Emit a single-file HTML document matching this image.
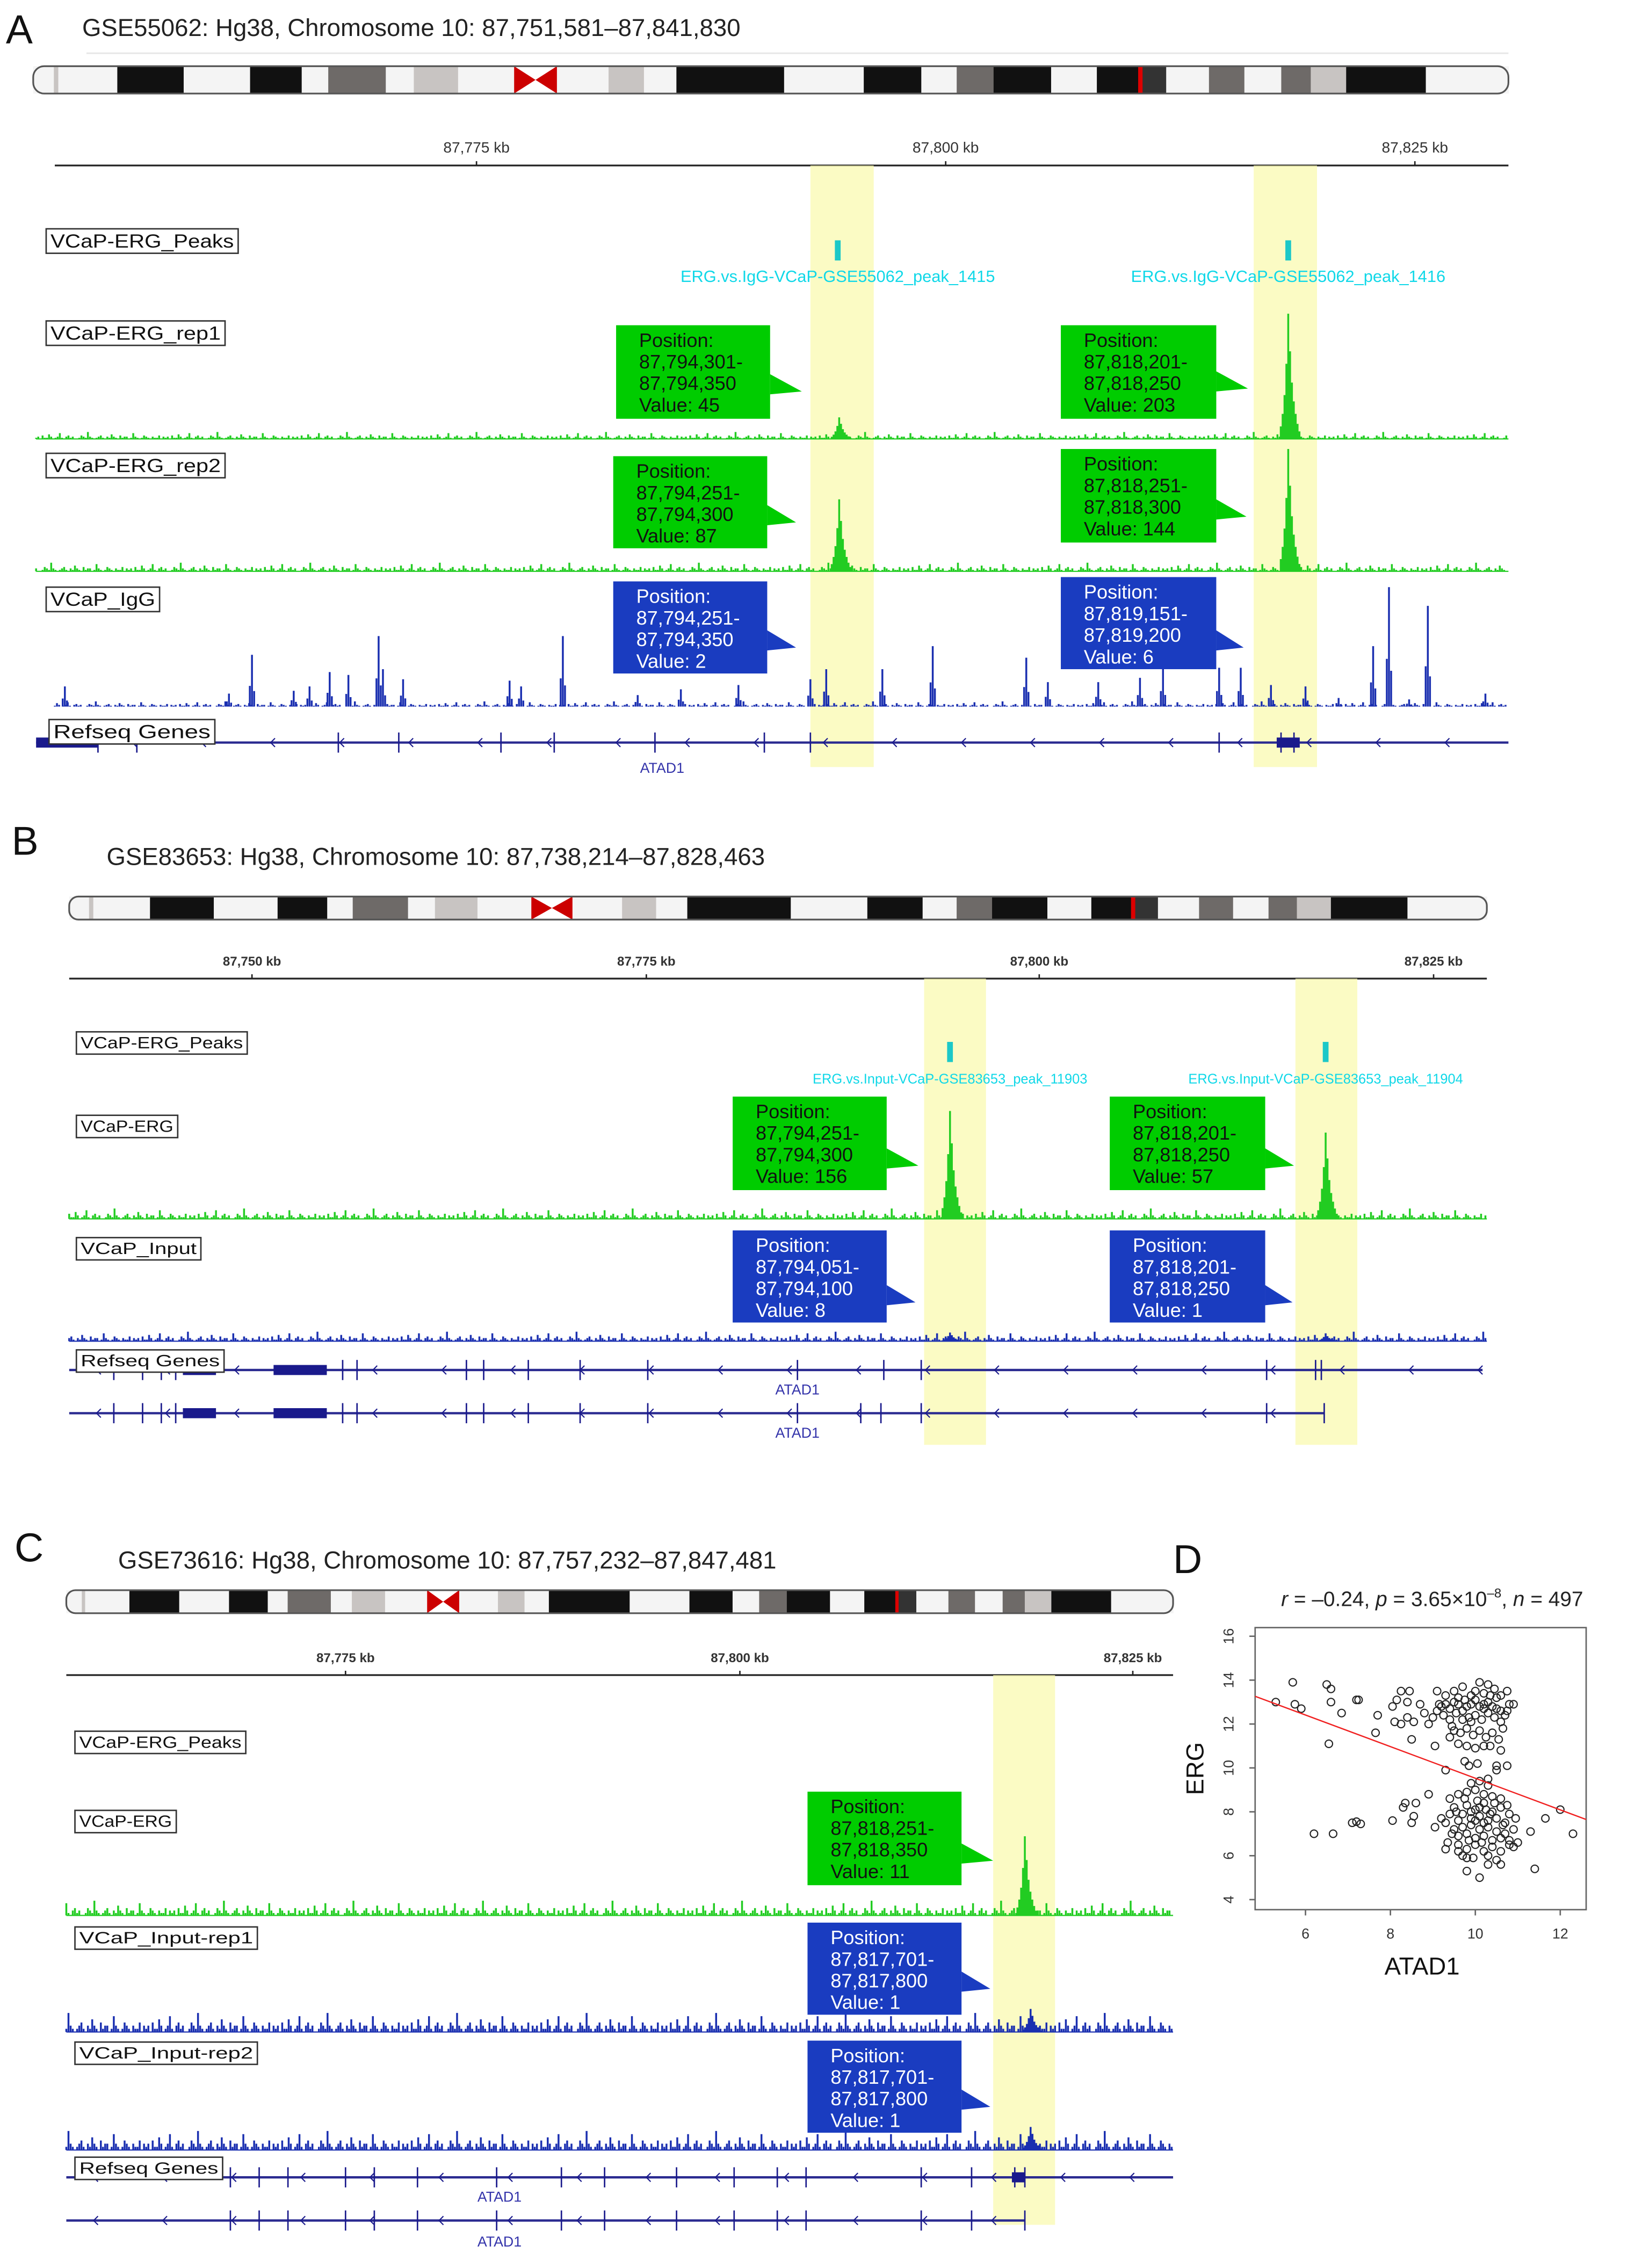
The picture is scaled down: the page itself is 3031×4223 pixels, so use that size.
<!DOCTYPE html>
<html><head><meta charset="utf-8"><style>
html,body{margin:0;padding:0;background:#fff;}
svg{display:block;}
text{font-family:"Liberation Sans",sans-serif;}
</style></head><body>
<svg id="fig" xmlns="http://www.w3.org/2000/svg" width="3031" height="4223" viewBox="0 0 1131 1576">
<rect x="0" y="0" width="1131" height="1576" fill="#fff"/>
<g id="root"></g>
</svg>
<script>
// ---------- data ----------
const igA_x=[45,175,229,242,263,266,280,354,362,391,473,513,563,574,613,648,713,728,763,792,808,847,862,883,907,954,965,992,1032,159,204,215,443,930,979];
const igA_h=[14,36,24,22,49,26,19,18,14,49,12,15,19,26,26,42,34,17,17,20,27,27,27,15,14,42,83,70,9,9,11,14,8,6,5];
const peakA1_x=[583,895], peakA1_h=[15,87];
const peakA2_x=[583,895], peakA2_h=[50,85];
const peakB1_x=[660,921], peakB1_h=[75,60];
const peakB2_x=[660,921], peakB2_h=[6,5];
const peakC1_x=[712], peakC1_h=[55];
const peakC2_x=[716], peakC2_h=[16];
const peakC3_x=[716], peakC3_h=[16];
const noisePattern=[1,2,0,3,1,1,4,2,0,1,2,5,1,0,2,3,1,2,0,0,1,3,2,1,6,2,1,0,1,2,3,1,0,2,1,4,2,1,0,3,1,2,2,0,1,5,2,1,0,1,3,2,1,0,2,1,1,3,0,2];
const peakProfile=[0.1,0.2,0.35,0.6,1,0.7,0.45,0.3,0.2,0.12,0.06];
// scatter (ATAD1, ERG)
const atad1=[5.3,5.7,5.75,5.9,6.5,6.6,6.6,6.55,6.85,7.2,7.25,7.65,7.7,8.05,8.1,8.15,8.25,8.25,8.4,8.4,8.45,8.5,8.55,8.7,8.8,8.9,9.05,9.1,8.9,8.3,8.35,8.6,8.55,8.5,8.05,7.1,7.2,7.3,6.2,6.65,11.3,11.65,12.0,12.3,11.4,10.1,9.8,10.3,9.05,9.3,9.35,9.6,9.8,9.95,10.6,10.5,10.5,10.75,10.6,9.75,9.85,9.3,10.3,10.05,
9.2,9.3,9.4,9.5,9.6,9.7,9.8,9.9,10.0,10.1,10.2,10.3,10.4,10.5,10.6,10.7,10.8,9.25,9.4,9.55,9.7,9.85,10.0,10.15,10.3,10.45,10.6,10.75,9.5,9.65,9.8,9.95,10.1,10.25,10.4,10.55,9.4,9.6,9.8,10.0,10.2,10.35,9.3,9.5,9.7,9.9,10.1,10.3,10.45,10.6,10.75,9.0,9.1,9.15,10.0,10.2,9.6,9.75,10.35,10.5,9.9,10.2,9.45,10.65,10.9,
9.4,9.5,9.6,9.7,9.8,9.9,10.0,10.1,10.2,10.3,10.4,10.5,10.6,10.7,10.8,9.5,9.6,9.7,9.8,9.9,10.0,10.1,10.2,10.3,10.4,10.5,10.6,10.7,10.8,10.9,9.6,9.8,10.0,10.2,10.4,10.6,10.8,9.4,9.6,9.8,10.0,10.2,10.4,10.6,9.9,10.1,10.3,9.3,9.2,9.45,10.95,11.0,10.9,9.75,10.05,10.25,10.45,10.65,9.85,10.15,10.35,9.55,10.75,10.0,10.1,9.9,10.2,9.7,10.5,10.3];
const erg=[13.0,13.9,12.9,12.7,13.8,13.6,13.0,11.1,12.5,13.1,13.1,11.6,12.4,12.8,12.1,13.1,12.0,13.5,12.3,13.0,13.5,11.3,12.1,12.9,12.5,12.0,11.0,13.5,8.8,8.2,8.4,8.4,7.8,7.5,7.6,7.5,7.55,7.45,7.0,7.0,7.1,7.7,8.1,7.0,5.4,5.0,5.3,5.6,7.3,6.3,6.6,6.2,5.9,5.9,5.6,9.9,10.1,10.1,10.8,10.3,10.1,9.9,9.5,10.2,
12.8,12.9,12.7,13.0,12.9,12.6,12.8,12.9,13.1,12.8,12.9,13.0,12.8,13.2,12.6,12.4,12.9,12.4,12.2,12.5,12.2,12.3,12.4,12.2,12.5,12.3,12.1,12.6,11.7,11.6,11.8,11.5,11.7,11.4,11.6,11.3,11.4,11.1,11.0,10.9,11.0,11.0,13.3,13.5,13.7,13.3,13.9,13.8,13.6,13.3,13.5,12.3,12.6,12.9,13.5,13.4,13.2,13.1,13.3,12.7,12.1,12.7,11.9,11.8,12.9,
7.9,8.2,7.6,7.9,8.3,7.7,8.1,7.8,8.4,7.6,8.0,7.7,8.2,7.5,7.9,7.2,6.9,7.3,7.0,7.4,6.8,7.2,6.9,7.3,6.7,7.1,6.8,7.0,6.7,7.2,6.5,6.3,6.5,6.2,6.4,6.2,6.5,8.6,8.8,8.9,9.0,8.8,8.7,8.6,9.3,9.4,9.2,7.5,7.7,7.0,7.7,6.6,6.4,8.6,8.5,8.1,8.4,7.4,6.7,6.6,7.9,8.0,8.3,7.6,8.2,8.0,7.5,6.0,5.8,6.0];
const xTicksD=[6,8,10,12], yTicksD=[4,6,8,10,12,14,16];
const fitSlope=-0.72, fitIntercept=16.73;

// ---------- helpers ----------
const NS='http://www.w3.org/2000/svg';
const root=document.getElementById('root');
function mk(tag,attrs,parent,txt){const e=document.createElementNS(NS,tag);for(const k in attrs)e.setAttribute(k,attrs[k]);if(txt!==undefined)e.textContent=txt;(parent||root).appendChild(e);return e;}

const bands=[[0,0.014,'#f4f4f4'],[0.014,0.017,'#c8c4c2'],[0.017,0.057,'#f4f4f4'],[0.057,0.102,'#111'],[0.102,0.147,'#f4f4f4'],[0.147,0.182,'#111'],[0.182,0.200,'#f4f4f4'],[0.200,0.239,'#6e6a68'],[0.239,0.258,'#f4f4f4'],[0.258,0.288,'#c8c4c2'],[0.288,0.326,'#f4f4f4'],[0.355,0.39,'#f4f4f4'],[0.39,0.414,'#c8c4c2'],[0.414,0.436,'#f4f4f4'],[0.436,0.509,'#111'],[0.509,0.563,'#f4f4f4'],[0.563,0.602,'#111'],[0.602,0.626,'#f4f4f4'],[0.626,0.651,'#6e6a68'],[0.651,0.690,'#111'],[0.690,0.721,'#f4f4f4'],[0.721,0.749,'#111'],[0.749,0.752,'#d00'],[0.752,0.768,'#333'],[0.768,0.797,'#f4f4f4'],[0.797,0.821,'#6e6a68'],[0.821,0.846,'#f4f4f4'],[0.846,0.866,'#6e6a68'],[0.866,0.890,'#c8c4c2'],[0.890,0.944,'#111'],[0.944,0.973,'#f4f4f4'],[0.973,1,'#f4f4f4']];
function ideogram(x0,x1,y,h,name){
  const g=mk('g',{});
  
  
  const w=x1-x0;
  bands.forEach(b=>{mk('rect',{x:x0+b[0]*w,y:y,width:(b[1]-b[0])*w+0.3,height:h,fill:b[2]},g);});
  const c0=x0+0.326*w,c1=x0+0.355*w,cm=(c0+c1)/2;
  mk('polygon',{points:`${c0},${y} ${cm},${y+h/2} ${c0},${y+h}`,fill:'#c00'},g);
  mk('polygon',{points:`${c1},${y} ${cm},${y+h/2} ${c1},${y+h}`,fill:'#c00'},g);
  mk('rect',{x:x0,y:y,width:w,height:h,rx:h/2.5,fill:'none',stroke:'#555','stroke-width':1.2},g);
}
function ruler(x0,x1,y,ticks,labels,fs,bold,name){
  const g=mk('g',{});
  
  
  mk('line',{x1:x0,y1:y,x2:x1,y2:y,stroke:'#222','stroke-width':1.2},g);
  ticks.forEach((t,i)=>{mk('line',{x1:t,y1:y-3,x2:t,y2:y,stroke:'#222'},g);
    mk('text',{x:t,y:y-9,'font-size':fs,'text-anchor':'middle',fill:'#333','font-weight':bold?'bold':'normal'},g,labels[i]);});
}
function labelBox(x,y,txt,fs,name){
  const w=txt.length*fs*0.7+6;
  const r=mk('rect',{x:x,y:y,width:w,height:fs+4,fill:'#fff',stroke:'#333','stroke-width':1});
  
  
  const t=mk('text',{x:x+3,y:y+fs,'font-size':fs,fill:'#111',textLength:w-6,lengthAdjust:'spacingAndGlyphs'},undefined,txt);
  
  
}
function highlight(x,y0,y1,w,name){
  const r=mk('rect',{x:x,y:y0,width:w,height:y1-y0,fill:'#fafab0','fill-opacity':0.75});
  
  
}
function signal(x0,x1,base,color,scale,px,ph,off,name){
  const g=mk('g',{});
  
  
  let d='';
  for(let x=x0,i=off;x<x1;x+=1.5,i++){
    const h=noisePattern[i%noisePattern.length]*scale;
    if(h>0)d+=`M${x},${base}v${-h}`;
  }
  px.forEach((p,k)=>{peakProfile.forEach((f,j)=>{const xx=p+(j-4)*1.3;d+=`M${xx},${base}v${-ph[k]*f}`;});});
  mk('path',{d:d,stroke:color,'stroke-width':1.3,fill:'none'},g);
  mk('line',{x1:x0,y1:base,x2:x1,y2:base,stroke:color,'stroke-width':0.8},g);
}
function callout(x,y,w,h,tipx,tipy,fill,tcol,lines,name){
  const g=mk('g',{});
  
  
  mk('rect',{x:x,y:y,width:w,height:h,fill:fill},g);
  mk('polygon',{points:`${x+w},${tipy-12} ${tipx},${tipy} ${x+w},${tipy+2}`,fill:fill},g);
  lines.forEach((l,i)=>mk('text',{x:x+16,y:y+15+i*15,'font-size':13.5,fill:tcol},g,l));
}
function peakMark(x,y,lbl,fs,name){
  const r=mk('rect',{x:x-2,y:y,width:4,height:14,fill:'#1cc8c8'});
  
  
  const t=mk('text',{x:x,y:y+29,'font-size':fs,'text-anchor':'middle',fill:'#10d8e8'},undefined,lbl);
  
  
}
function gene(x0,x1,y,thick,exons,name,atadX,labY){
  const g=mk('g',{});
  
  
  mk('line',{x1:x0,y1:y,x2:x1,y2:y,stroke:'#2a2a90','stroke-width':1.6},g);
  thick.forEach(t=>mk('rect',{x:t[0],y:y-3.5,width:t[1]-t[0],height:7,fill:'#1a1a8c'},g));
  exons.forEach(e=>mk('line',{x1:e,y1:y-7,x2:e,y2:y+7,stroke:'#1a1a8c','stroke-width':1},g));
  for(let x=x0+20;x<x1;x+=48)mk('path',{d:`M${x+2},${y-3}l-3,3l3,3`,stroke:'#1a1a8c',fill:'none','stroke-width':0.8},g);
  if(atadX)mk('text',{x:atadX,y:labY,'font-size':10,'text-anchor':'middle',fill:'#3333aa'},g,'ATAD1');
}
function panelLetter(x,y,l){const t=mk('text',{x:x,y:y,'font-size':28,fill:'#111'},undefined,l);
  
  }
function title(x,y,s,name){const t=mk('text',{x:x,y:y,'font-size':17,fill:'#222'},undefined,s);
  
  }

// ---------- Panel A ----------
panelLetter(4,30,'A');
title(57,25,'GSE55062: Hg38, Chromosome 10: 87,751,581–87,841,830','title-a');
mk('line',{x1:60,y1:37,x2:1048,y2:37,stroke:'#e6e6e6'});
ideogram(23,1048,46,19,'ideogram-a');
ruler(38,1048,115,[331,657,983],['87,775 kb','87,800 kb','87,825 kb'],10.5,false,'ruler-a');
highlight(563,115,533,44,'highlight-a1');highlight(871,115,533,44,'highlight-a2');
labelBox(32,159,'VCaP-ERG_Peaks',13,'track-label-a-peaks');
labelBox(32,223,'VCaP-ERG_rep1',13,'track-label-a-rep1');
labelBox(32,315,'VCaP-ERG_rep2',13,'track-label-a-rep2');
labelBox(32,408,'VCaP_IgG',13,'track-label-a-igg');
peakMark(582,167,'ERG.vs.IgG-VCaP-GSE55062_peak_1415',11.5,'peak-a-1415');
peakMark(895,167,'ERG.vs.IgG-VCaP-GSE55062_peak_1416',11.5,'peak-a-1416');
signal(25,1048,305,'#22cc22',0.8,peakA1_x,peakA1_h,0,'signal-a-rep1');
signal(25,1048,397,'#22cc22',1.0,peakA2_x,peakA2_h,17,'signal-a-rep2');
(function(){const g=mk('g',{});
  
  
  let d='';for(let x=38,i=5;x<1048;x+=1.5,i++){const h=noisePattern[i%noisePattern.length]*0.6;if(h>0)d+=`M${x},491v${-h}`;}
  igA_x.forEach((x,i)=>{d+=`M${x},491v${-igA_h[i]}M${x-1.5},491v${-igA_h[i]*0.4}M${x+1.5},491v${-igA_h[i]*0.3}`;});
  mk('path',{d:d,stroke:'#1a2fb0','stroke-width':1.3,fill:'none'},g);})();
callout(428,226,107,65,557,272,'#00cc00','#111',['Position:','87,794,301-','87,794,350','Value: 45'],'callout-a-rep1-1');
callout(737,226,108,65,867,270,'#00cc00','#111',['Position:','87,818,201-','87,818,250','Value: 203'],'callout-a-rep1-2');
callout(426,317,107,64,553,363,'#00cc00','#111',['Position:','87,794,251-','87,794,300','Value: 87'],'callout-a-rep2-1');
callout(737,312,108,65,866,359,'#00cc00','#111',['Position:','87,818,251-','87,818,300','Value: 144'],'callout-a-rep2-2');
callout(426,404,107,64,553,450,'#1a3cc0','#fff',['Position:','87,794,251-','87,794,350','Value: 2'],'callout-a-igg-1');
callout(737,401,108,64,864,450,'#1a3cc0','#fff',['Position:','87,819,151-','87,819,200','Value: 6'],'callout-a-igg-2');
gene(25,1048,516,[[25,68],[887,903]],[68,95,235,277,348,385,455,531,563,847,890,899],'gene-a-atad1',460,537);
labelBox(34,500,'Refseq Genes',13,'track-label-a-refseq');

// ---------- Panel B ----------
panelLetter(8,594,'B');
title(74,601,'GSE83653: Hg38, Chromosome 10: 87,738,214–87,828,463','title-b');
ideogram(48,1033,623,16,'ideogram-b');
ruler(48,1033,680,[175,449,722,996],['87,750 kb','87,775 kb','87,800 kb','87,825 kb'],9,true,'ruler-b');
highlight(642,680,1004,43,'highlight-b1');highlight(900,680,1004,43,'highlight-b2');
labelBox(53,717,'VCaP-ERG_Peaks',11.5,'track-label-b-peaks');
labelBox(53,775,'VCaP-ERG',11.5,'track-label-b-erg');
labelBox(53,860,'VCaP_Input',11.5,'track-label-b-input');
peakMark(660,724,'ERG.vs.Input-VCaP-GSE83653_peak_11903',9.5,'peak-b-11903');
peakMark(921,724,'ERG.vs.Input-VCaP-GSE83653_peak_11904',9.5,'peak-b-11904');
signal(48,1033,847,'#22cc22',1.2,peakB1_x,peakB1_h,3,'signal-b-erg');
signal(48,1033,932,'#1a2fb0',1.1,peakB2_x,peakB2_h,29,'signal-b-input');
callout(509,762,107,65,638,810,'#00cc00','#111',['Position:','87,794,251-','87,794,300','Value: 156'],'callout-b-erg-1');
callout(771,762,108,65,899,810,'#00cc00','#111',['Position:','87,818,201-','87,818,250','Value: 57'],'callout-b-erg-2');
callout(509,855,107,64,636,905,'#1a3cc0','#fff',['Position:','87,794,051-','87,794,100','Value: 8'],'callout-b-input-1');
callout(771,855,108,64,898,905,'#1a3cc0','#fff',['Position:','87,818,201-','87,818,250','Value: 1'],'callout-b-input-2');
gene(48,1030,952,[[127,150],[190,227]],[79,99,112,122,238,248,324,336,367,403,450,554,614,640,880,914,918],'gene-b-atad1-1',554,969);
gene(48,920,982,[[127,150],[190,227]],[79,99,112,122,238,248,324,336,367,403,450,554,598,612,640,880,920],'gene-b-atad1-2',554,999);
labelBox(53,938,'Refseq Genes',11.5,'track-label-b-refseq');

// ---------- Panel C ----------
panelLetter(10,1085,'C');
title(82,1090,'GSE73616: Hg38, Chromosome 10: 87,757,232–87,847,481','title-c');
ideogram(46,815,1105,16,'ideogram-c');
ruler(46,815,1164,[240,514,787],['87,775 kb','87,800 kb','87,825 kb'],9,true,'ruler-c');
highlight(690,1164,1546,43,'highlight-c');
labelBox(52,1203,'VCaP-ERG_Peaks',11.5,'track-label-c-peaks');
labelBox(52,1258,'VCaP-ERG',11.5,'track-label-c-erg');
labelBox(52,1339,'VCaP_Input-rep1',11.5,'track-label-c-input1');
labelBox(52,1419,'VCaP_Input-rep2',11.5,'track-label-c-input2');
signal(46,815,1331,'#22cc22',1.7,peakC1_x,peakC1_h,11,'signal-c-erg');
signal(46,815,1412,'#1a2fb0',2.2,peakC2_x,peakC2_h,23,'signal-c-input1');
signal(46,815,1494,'#1a2fb0',2.2,peakC3_x,peakC3_h,23,'signal-c-input2');
callout(561,1245,107,65,690,1293,'#00cc00','#111',['Position:','87,818,251-','87,818,350','Value: 11'],'callout-c-erg');
callout(561,1336,107,64,688,1382,'#1a3cc0','#fff',['Position:','87,817,701-','87,817,800','Value: 1'],'callout-c-input1');
callout(561,1418,107,64,688,1464,'#1a3cc0','#fff',['Position:','87,817,701-','87,817,800','Value: 1'],'callout-c-input2');
gene(46,815,1513,[[703,712]],[160,180,200,240,260,290,345,390,420,470,510,540,560,640,675,705,712],'gene-c-atad1-1',347,1530);
gene(46,712,1543,[],[160,180,200,240,260,290,345,390,420,470,510,540,560,640,675,712],'gene-c-atad1-2',347,1561);
labelBox(52,1499,'Refseq Genes',11.5,'track-label-c-refseq');

// ---------- Panel D scatter ----------
panelLetter(815,1093,'D');
const PX0=872,PX1=1102,PY0=1131,PY1=1327;
const xs=v=>907+(v-6)*29.5, ys=v=>1320-(v-4)*15.25;
(function(){
  const t=mk('text',{x:995,y:1116,'font-size':14.5,'text-anchor':'middle',fill:'#222'});
  
  
  const parts=[['r','italic'],[' = –0.24, ',''],['p','italic'],[' = 3.65×10',''],['–8','sup'],[', ',''],['n','italic'],[' = 497','']];
  parts.forEach(p=>{const s=mk('tspan',{},t,p[0]);if(p[1]==='italic')s.setAttribute('font-style','italic');
    if(p[1]==='sup'){s.setAttribute('font-size','9');s.setAttribute('dy','-6');}
    else if(p[0]===', '){s.setAttribute('dy','6');}});
})();
const frame=mk('rect',{x:PX0,y:PY0,width:PX1-PX0,height:PY1-PY0,fill:'none',stroke:'#666','stroke-width':1});


xTicksD.forEach(v=>{mk('line',{x1:xs(v),y1:PY1,x2:xs(v),y2:PY1+4,stroke:'#666'});
  const t=mk('text',{x:xs(v),y:PY1+20,'font-size':10,'text-anchor':'middle',fill:'#333'},undefined,v);
  
  });
yTicksD.forEach(v=>{mk('line',{x1:PX0-4,y1:ys(v),x2:PX0,y2:ys(v),stroke:'#666'});
  const t=mk('text',{x:857,y:ys(v),'font-size':10,'text-anchor':'middle',fill:'#333',transform:`rotate(-90 857 ${ys(v)})`},undefined,v);
  
  });
const xt=mk('text',{x:988,y:1372,'font-size':17,'text-anchor':'middle',fill:'#111'},undefined,'ATAD1');


const yt=mk('text',{x:836,y:1229,'font-size':17,'text-anchor':'middle',fill:'#111',transform:'rotate(-90 836 1229)'},undefined,'ERG');


const pts=mk('g',{});


atad1.forEach((a,i)=>{const c=mk('circle',{cx:xs(a),cy:ys(erg[i]),r:2.6,fill:'none',stroke:'#222','stroke-width':0.8},pts);
  
  });
const fl=mk('line',{x1:PX0,y1:ys(fitIntercept+fitSlope*(6+(PX0-907)/29.5)),x2:PX1,y2:ys(fitIntercept+fitSlope*(6+(PX1-907)/29.5)),stroke:'#f02020','stroke-width':0.9});


</script>
</body></html>
